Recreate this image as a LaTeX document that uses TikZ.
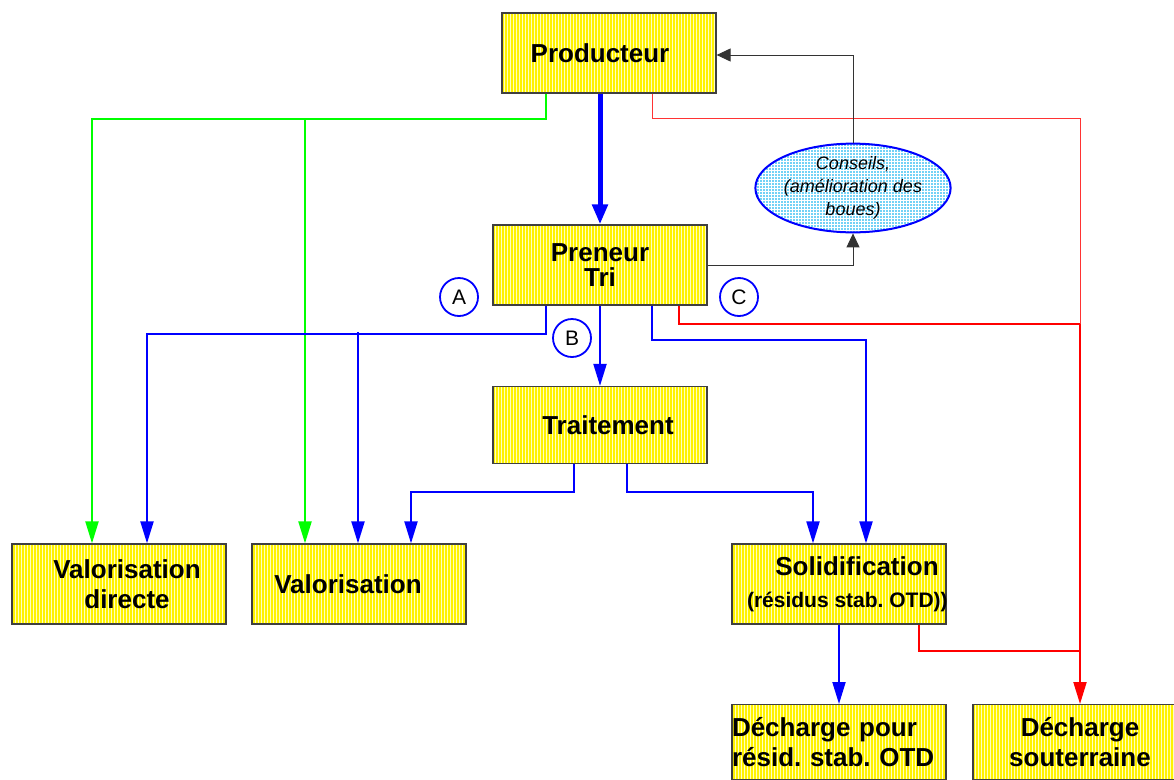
\documentclass[tikz,border=0pt]{standalone}
\usepackage{fontspec}
\setmainfont{Liberation Sans}
\frenchspacing
\usetikzlibrary{arrows.meta,patterns,shapes.geometric}
\tikzset{
    %Define standard arrow tip
    >={Triangle[length=22pt,width=13pt]},
    %Define style for boxes
    bloc/.style={
           rectangle,
           draw=black!75, line width=1.2pt,
           preaction={fill=yellow},
           pattern=vertical lines,
           pattern color=yellow!25!white,
           minimum width=214pt,
           minimum height=80pt,
           inner sep=0pt,
           align=center,
           font=\bfseries\fontsize{26}{30}\selectfont},
    conseil/.style={
           ellipse,
           draw=blue, line width=2pt,
           preaction={fill=cyan!55},
           pattern=grid,
           pattern color=white,
           minimum width=192pt,
           minimum height=88pt,
           inner sep=0pt,
           align=center,
           font=\itshape\fontsize{18}{23}\selectfont},
    repere/.style={
           circle,
           draw=blue, line width=1.8pt,
           minimum size=38pt,
           inner sep=0pt,
           font=\fontsize{21}{24}\selectfont},
    % Define arrow styles
    bleu/.style={draw=blue, line width=2pt},
    vert/.style={draw=green, line width=2pt},
    rouge/.style={draw=red, line width=2pt},
    rougefin/.style={draw=red!80, line width=1pt},
    noir/.style={draw=black!80, line width=1pt, >={Triangle[length=14pt,width=13pt]}}
}
\begin{document}
\begin{tikzpicture}[x=1pt,y=-1pt]
\useasboundingbox (0,0) rectangle (1174,779);
% boxes
\node[bloc] (prod) at (609,53) {\hspace*{-18pt}Producteur};
\node[bloc] (pren) at (600,265) {Preneur\\[-5pt]Tri};
\node[bloc, minimum height=77pt] (trait) at (600,425) {\hspace*{16pt}Traitement};
\node[bloc] (valdir) at (119,584) {\hspace*{16pt}Valorisation\\\hspace*{16pt}directe};
\node[bloc] (val) at (359,584) {\hspace*{-22pt}Valorisation};
\node[bloc] (solid) at (839,584) {\hspace*{36pt}Solidification\\[2pt]{\fontsize{21}{25}\selectfont\makebox[214pt][l]{\hspace*{15pt}(résidus stab. OTD))}}};
\node[bloc, anchor=north, minimum height=75pt, text width=214pt, align=left] (dechot) at (839,704) {Décharge pour\\résid. stab. OTD};
\node[bloc, anchor=north, minimum height=75pt] (dechsout) at (1080,704) {Décharge\\souterraine};
\node[conseil] (cons) at (853,188) {Conseils,\\(amélioration des\\boues)};
% circled marks
\node[repere] (mA) at (459,297) {A};
\node[repere] (mB) at (572,338) {B};
\node[repere] (mC) at (739,297) {C};
% junctions
\coordinate (jg) at (305,118);
\coordinate (jb) at (358,332);
\coordinate (jr) at (1080,324);
\coordinate (js) at (1080,651);
% connectors
\draw[blue, line width=5pt, ->, >={Triangle[length=20pt,width=15pt]}] (prod.south -| pren.north) -- (pren.north);
\draw[vert,->] ([xshift=-63]prod.south) -- ++(0,25) -| ([xshift=-27]valdir.north);
\draw[vert,->] (jg) -- ([xshift=-54]val.north);
\draw[rougefin] ([xshift=43]prod.south) -- ++(0,25) -| (jr);
\draw[noir,->] (cons.north) |- ([yshift=-2]prod.east);
\draw[noir,->] (pren.east) -| (cons.south);
\draw[bleu,->] ([xshift=-54]pren.south) -- ++(0,28) -| ([xshift=28]valdir.north);
\draw[bleu,->] (jb) -- ([xshift=-1]val.north);
\draw[bleu,->] (pren.south) -- (trait.north);
\draw[bleu,->] ([xshift=52]pren.south) -- ++(0,34) -| ([xshift=27]solid.north);
\draw[rouge] ([xshift=79]pren.south) |- (jr);
\draw[rouge,->] (jr) -- (dechsout.north);
\draw[bleu,->] ([xshift=-26]trait.south) -- ++(0,28) -| ([xshift=52]val.north);
\draw[bleu,->] ([xshift=27]trait.south) -- ++(0,28) -| ([xshift=-26]solid.north);
\draw[bleu,->] (solid.south) -- (dechot.north);
\draw[rouge] ([xshift=80]solid.south) |- (js);
\end{tikzpicture}
\end{document}
